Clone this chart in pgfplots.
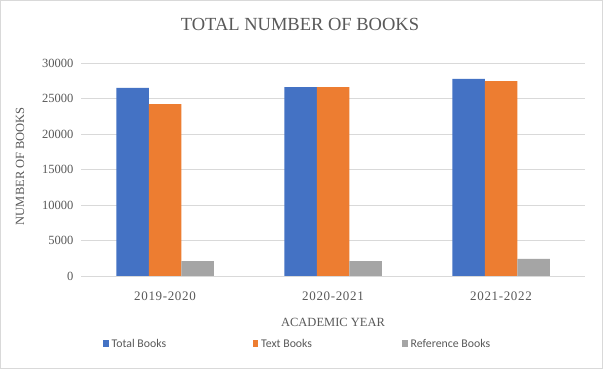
\documentclass[border=0pt]{standalone}
\usepackage{pgfplots}
\pgfplotsset{compat=1.18}
\usepackage{fontspec}
\setmainfont{Liberation Serif}
\newfontfamily\legfont{Carlito}
\newfontfamily\spacedfont[LetterSpace=5]{Liberation Serif}
\definecolor{cblue}{HTML}{4472C4}
\definecolor{corange}{HTML}{ED7D31}
\definecolor{cgray}{HTML}{A5A5A5}
\definecolor{txt}{HTML}{595959}
\definecolor{gridc}{HTML}{D9D9D9}
\begin{document}
\begin{tikzpicture}[x=1pt,y=1pt]
\draw[gridc, line width=1pt, fill=white] (0.5,0.5) rectangle (602.5,368.5);
\node[text=txt, font=\fontsize{18.5}{20}\selectfont] at (300,345) {TOTAL NUMBER OF BOOKS};
\begin{axis}[
  at={(81pt,93pt)}, anchor=south west,
  scale only axis, width=504pt, height=213pt,
  xmin=-0.5, xmax=2.5, ymin=0, ymax=30000,
  xtick={0,1,2}, xticklabels={2019-2020,2020-2021,2021-2022},
  ytick={0,5000,10000,15000,20000,25000,30000},
  ymajorgrids, grid style={gridc, line width=0.8pt},
  axis line style={draw=none},
  major tick style={draw=none},
  ybar=0pt, bar width=32.5pt,
  /pgf/number format/assume math mode=true,
  scaled y ticks=false,
  yticklabel={\pgfmathprintnumber[fixed,1000 sep={}]{\tick}},
  yticklabel style={text=txt, font=\fontsize{12.5}{14}\selectfont, xshift=-4pt},
  xticklabel style={text=txt, font=\spacedfont\fontsize{13}{15}\selectfont, yshift=-8pt},
  xlabel={ACADEMIC YEAR},
  ylabel={NUMBER OF BOOKS},
  every axis x label/.style={at={(axis description cs:0.5,-0.216)}, anchor=center, text=txt, font=\fontsize{12.5}{14}\selectfont},
  every axis y label/.style={at={(axis description cs:-0.121,0.516)}, anchor=center, rotate=90, text=txt, font=\fontsize{12.5}{14}\selectfont},
  legend style={at={(axis description cs:0.0377,-0.319)}, anchor=west, draw=none, fill=none,
    legend columns=3, font=\legfont\fontsize{11.8}{13}\selectfont, text=txt,
    nodes={inner sep=0pt},
    /tikz/every odd column/.append style={column sep=3pt}},
  legend image code/.code={\fill[#1] (0pt,-3pt) rectangle (5.5pt,3.5pt);},
]
\addplot[fill=cblue, draw=none] coordinates {(0,26500) (1,26600) (2,27750)};
\addlegendentry{\makebox[141pt][l]{Total Books}}
\addplot[fill=corange, draw=none] coordinates {(0,24200) (1,26600) (2,27450)};
\addlegendentry{\makebox[141pt][l]{Text Books}}
\addplot[fill=cgray, draw=none] coordinates {(0,2100) (1,2100) (2,2400)};
\addlegendentry{Reference Books}
\end{axis}
\end{tikzpicture}
\end{document}
